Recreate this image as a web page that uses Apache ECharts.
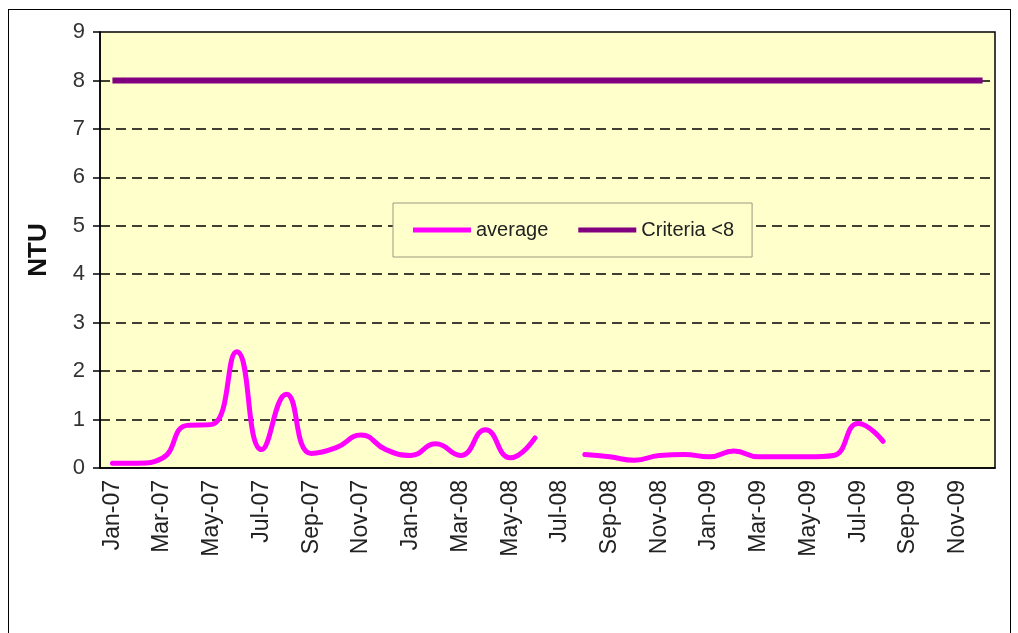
<!DOCTYPE html>
<html>
<head>
<meta charset="utf-8">
<script src="https://cdn.jsdelivr.net/npm/echarts@6/dist/echarts.min.js"></script>
<style>
  html, body { margin: 0; padding: 0; background: #ffffff; }
  #frame { position: absolute; left: 8px; top: 9px; width: 1003px; height: 640px; border: 1.5px solid #000; box-sizing: border-box; }
  #chart { position: absolute; left: 0; top: 0; width: 1018px; height: 633px; }
</style>
</head>
<body>
<div id="frame"></div>
<div id="chart"></div>
<script>
// Month categories Jan-07 .. Dec-09
const months = ["Jan-07","Feb-07","Mar-07","Apr-07","May-07","Jun-07","Jul-07","Aug-07","Sep-07","Oct-07","Nov-07","Dec-07",
                "Jan-08","Feb-08","Mar-08","Apr-08","May-08","Jun-08","Jul-08","Aug-08","Sep-08","Oct-08","Nov-08","Dec-08",
                "Jan-09","Feb-09","Mar-09","Apr-09","May-09","Jun-09","Jul-09","Aug-09","Sep-09","Oct-09","Nov-09","Dec-09"];
// Monthly average turbidity (NTU); null = no data
const average = [0.10,0.10,0.20,0.88,0.90,2.40,0.38,1.52,0.30,0.42,0.68,0.38,
                 0.26,0.50,0.26,0.79,0.21,0.62,null,0.28,0.23,0.16,0.26,0.28,
                 0.23,0.35,0.23,0.23,0.23,0.26,0.92,0.55,null,null,null,null];
// Criteria < 8 NTU
const criteria = [8,8,8,8,8,8,8,8,8,8,8,8,8,8,8,8,8,8,8,8,8,8,8,8,8,8,8,8,8,8,8,8,8,8,8,8];
const yTicks = [0,1,2,3,4,5,6,7,8,9];

const chart = echarts.init(document.getElementById('chart'));
chart.setOption({
  animation: false,
  backgroundColor: 'transparent',
  grid: {
    left: 100, right: 23, top: 32, bottom: 165,
    show: true, backgroundColor: '#FFFFCC', borderColor: '#000', borderWidth: 1.5
  },
  legend: {
    left: 393, top: 203,
    padding: [17, 18, 17, 20],
    backgroundColor: '#FFFFCC',
    borderColor: '#9a9a80', borderWidth: 1,
    itemWidth: 58, itemHeight: 5, itemGap: 30,
    icon: 'rect',
    textStyle: { fontSize: 20, color: '#222', fontFamily: "'Liberation Sans',Arial,sans-serif" },
    data: ['average', 'Criteria <8']
  },
  xAxis: {
    type: 'category',
    data: months,
    boundaryGap: true,
    axisLine: { lineStyle: { color: '#000', width: 1.5 } },
    axisTick: { interval: 1, length: 7, lineStyle: { color: '#000', width: 1.5 } },
    axisLabel: {
      interval: 1, rotate: 90, margin: 12,
      fontSize: 23, color: '#222',
      fontFamily: "'Liberation Sans',Arial,sans-serif"
    },
    splitLine: { show: false }
  },
  yAxis: {
    type: 'value',
    min: 0, max: 9, interval: 1,
    name: 'NTU',
    nameLocation: 'middle',
    nameGap: 48,
    nameRotate: 90,
    nameTextStyle: { fontSize: 26, fontWeight: 'bold', color: '#111', fontFamily: "'Liberation Sans',Arial,sans-serif" },
    axisLine: { show: true, lineStyle: { color: '#000', width: 1.5 } },
    axisTick: { show: true, length: 7, lineStyle: { color: '#000', width: 1.5 } },
    axisLabel: {
      margin: 15, fontSize: 22, color: '#333',
      fontFamily: "'Liberation Sans',Arial,sans-serif",
      formatter: function (v) { return yTicks.indexOf(v) >= 0 ? String(v) : ''; }
    },
    splitLine: {
      show: true, showMinLine: false, showMaxLine: false,
      lineStyle: { color: '#000', width: 1.5, type: [10, 6] }
    }
  },
  series: [
    {
      name: 'average',
      type: 'line',
      data: average,
      smooth: 0.5,
      connectNulls: false,
      showSymbol: false,
      symbol: 'none',
      lineStyle: { color: '#FF00FF', width: 5, cap: 'round', join: 'round' },
      itemStyle: { color: '#FF00FF' },
      z: 3
    },
    {
      name: 'Criteria <8',
      type: 'line',
      data: criteria,
      showSymbol: false,
      symbol: 'none',
      lineStyle: { color: '#800080', width: 6 },
      itemStyle: { color: '#800080' },
      z: 4
    }
  ]
});
</script>
</body>
</html>
